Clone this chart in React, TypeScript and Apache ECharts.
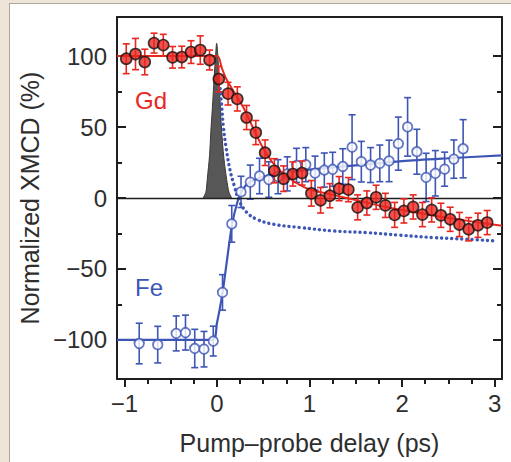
import React, { useEffect, useRef } from "react";
import * as echarts from "echarts";

// Gd (filled red circles)
const gdX = [-0.98, -0.88, -0.78, -0.68, -0.58, -0.48, -0.38, -0.28, -0.18, -0.08, 0.02, 0.12, 0.22, 0.32, 0.42, 0.52, 0.62, 0.72, 0.82, 0.92, 1.02, 1.12, 1.22, 1.32, 1.42, 1.52, 1.62, 1.72, 1.82, 1.92, 2.02, 2.12, 2.22, 2.32, 2.42, 2.52, 2.62, 2.72, 2.82, 2.92];
const gdY = [98.1, 101.4, 95.8, 109.1, 107.7, 99.1, 99.3, 102.8, 104.2, 97.2, 83.8, 73.5, 69.8, 56.7, 46.1, 31.9, 19.2, 13.6, 16.9, 17.6, 3.3, -1.6, 1.6, 6.6, 5.9, -6.6, -3.5, 0.5, -5.2, -11.9, -9.1, -6.3, -11.7, -8.4, -12.2, -15.0, -18.7, -22.0, -19.2, -17.3];
const gdErr = [10.5, 11, 9, 7, 7.6, 7.6, 7.6, 8, 10, 7, 9, 8, 8.5, 8.5, 8.5, 9, 8.5, 9, 8.5, 8.5, 9, 9, 8.5, 8.5, 8.5, 8.8, 8.5, 8.5, 8.5, 8.8, 8.5, 8.5, 8.5, 8.5, 8.5, 8.5, 8.5, 8.2, 8.5, 8.5];

// Fe (open blue circles)
const feX = [-0.84, -0.64, -0.44, -0.34, -0.24, -0.14, -0.04, 0.06, 0.16, 0.26, 0.36, 0.46, 0.56, 0.66, 0.76, 0.86, 0.96, 1.06, 1.16, 1.25, 1.36, 1.46, 1.56, 1.66, 1.76, 1.86, 1.96, 2.06, 2.16, 2.26, 2.36, 2.46, 2.56, 2.66];
const feY = [-102.5, -103.3, -95.4, -94.8, -106, -106.5, -100.8, -66.5, -18.2, 4.3, 11.2, 15.5, 13, 15, 17, 23, 23.5, 17.5, 19.7, 20.2, 22.2, 35.8, 25.6, 23.2, 24.4, 26.1, 38.3, 50.1, 32.6, 14.5, 17.4, 20.3, 27.4, 34.7];
const feErr = [14.3, 12.9, 12.3, 12.3, 13.5, 12.5, 10.5, 12.5, 12.9, 11, 12, 12.5, 12.5, 12, 12, 12, 12, 12, 12, 12, 12.5, 22.8, 14.3, 12.3, 12.9, 14.6, 18.7, 20.6, 15.8, 17, 16, 12, 13.5, 20.5];

// Fit curves
const gdFitX = [-1.08, 0, 0.05, 0.1, 0.2, 0.3, 0.4, 0.5, 0.6, 0.7, 0.8, 0.9, 1.0, 1.2, 1.4, 1.6, 1.8, 2.0, 2.4, 2.8, 3.08];
const gdFitY = [100, 100, 92, 84, 73, 62, 48, 35, 25, 18, 13, 9, 6, 3, 0, -3, -6, -8.5, -13, -17, -19.5];
const feFitX = [-1.08, -0.05, 0.0, 0.06, 0.1, 0.16, 0.22, 0.28, 0.35, 0.5, 0.75, 1.0, 1.5, 2.0, 2.5, 3.08];
const feFitY = [-100, -100, -88, -67, -48, -20, -3, 6, 11, 15, 18, 20, 23, 26, 28, 30];
const dotX = [0.035, 0.05, 0.07, 0.1, 0.14, 0.19, 0.24, 0.32, 0.43, 0.61, 0.9, 1.26, 1.62, 1.98, 2.34, 2.69, 3.0];
const dotY = [77, 66, 50, 35, 20, 8, -2, -10, -15, -18.5, -20.8, -23.2, -24.4, -26.2, -27.9, -29, -30.2];

// Pump pulse
const pulseX = [-0.15, -0.12, -0.105, -0.08, -0.065, -0.045, -0.032, -0.015, -0.003, 0.01, 0.022, 0.035, 0.05, 0.075, 0.105, 0.13, 0.16];
const pulseY = [0, 4, 13, 30, 48, 68, 83, 100, 109, 100, 83, 66, 48, 28, 13, 4, 0];

const xMajor = [-1, 0, 1, 2, 3];
const xMinor = [-0.75, -0.5, -0.25, 0.25, 0.5, 0.75, 1.25, 1.5, 1.75, 2.25, 2.5, 2.75];
const yMajor = [-100, -50, 0, 50, 100];
const yMinor = [-75, -25, 25, 75];

const RED = "#e8271f";
const BLUE = "#3d55b5";
const TEXT = "#2e2e2e";
const AXIS = "#1e1e1e";
const FONT = "'Liberation Sans', Arial, Helvetica, sans-serif";

const fmt = (v: number) => (v < 0 ? "\u2212" + Math.abs(v) : String(v));
const zip = (xs: number[], ys: number[]) => xs.map((x, i) => [x, ys[i]]);

function errorBars(xs: number[], ys: number[], es: number[], color: string, z: number) {
  return {
    type: "custom",
    z,
    data: xs.map((x, i) => [x, ys[i] - es[i], ys[i] + es[i]]),
    renderItem: (_p: any, api: any) => {
      const x = api.value(0);
      const top = api.coord([x, api.value(2)]);
      const bot = api.coord([x, api.value(1)]);
      const w = 3.5;
      const st = { stroke: color, lineWidth: 1.6 };
      return {
        type: "group",
        children: [
          { type: "line", shape: { x1: top[0], y1: top[1], x2: bot[0], y2: bot[1] }, style: st },
          { type: "line", shape: { x1: top[0] - w, y1: top[1], x2: top[0] + w, y2: top[1] }, style: st },
          { type: "line", shape: { x1: bot[0] - w, y1: bot[1], x2: bot[0] + w, y2: bot[1] }, style: st },
        ],
      };
    },
  };
}

export default function App() {
  const ref = useRef<HTMLDivElement>(null);
  useEffect(() => {
    if (!ref.current) return;
    const chart = echarts.init(ref.current, null, { renderer: "svg" });
    const xRange = { min: -1.08, max: 3.08 };
    const yRange = { min: -127.5, max: 127.5 };
    chart.setOption({
      animation: false,
      grid: { left: 117, right: 9, top: 17, bottom: 83 },
      xAxis: [
        {
          type: "value", ...xRange, position: "bottom",
          axisLine: { show: true, onZero: false, lineStyle: { color: AXIS, width: 2 } },
          axisTick: { show: true, inside: false, length: 8, customValues: xMajor, lineStyle: { color: AXIS, width: 2 } },
          axisLabel: { customValues: xMajor, formatter: fmt, fontSize: 24, margin: 12, color: TEXT, fontFamily: FONT },
          splitLine: { show: false },
          name: "Pump\u2013probe delay (ps)", nameLocation: "middle", nameGap: 51,
          nameTextStyle: { fontSize: 25, color: TEXT, fontFamily: FONT },
        },
        {
          type: "value", ...xRange, position: "bottom",
          axisLine: { show: false, onZero: false },
          axisTick: { show: true, inside: false, length: 5, customValues: xMinor, lineStyle: { color: AXIS, width: 2 } },
          axisLabel: { show: false }, splitLine: { show: false },
        },
        {
          type: "value", ...xRange, position: "top",
          axisLine: { show: true, onZero: false, lineStyle: { color: AXIS, width: 2 } },
          axisTick: { show: false }, axisLabel: { show: false }, splitLine: { show: false },
        },
      ],
      yAxis: [
        {
          type: "value", ...yRange, position: "left",
          axisLine: { show: true, onZero: false, lineStyle: { color: AXIS, width: 2 } },
          axisTick: { show: true, inside: true, length: 9, customValues: yMajor, lineStyle: { color: AXIS, width: 2 } },
          axisLabel: { customValues: yMajor, formatter: fmt, fontSize: 24, margin: 10, color: TEXT, fontFamily: FONT },
          splitLine: { show: false },
          name: "Normalized XMCD (%)", nameLocation: "middle", nameGap: 72,
          nameTextStyle: { fontSize: 25, color: TEXT, fontFamily: FONT },
        },
        {
          type: "value", ...yRange, position: "left",
          axisLine: { show: false, onZero: false },
          axisTick: { show: true, inside: true, length: 5, customValues: yMinor, lineStyle: { color: AXIS, width: 2 } },
          axisLabel: { show: false }, splitLine: { show: false },
        },
        {
          type: "value", ...yRange, position: "right",
          axisLine: { show: true, onZero: false, lineStyle: { color: AXIS, width: 2 } },
          axisTick: { show: true, inside: true, length: 9, customValues: yMajor, lineStyle: { color: AXIS, width: 2 } },
          axisLabel: { show: false }, splitLine: { show: false },
        },
        {
          type: "value", ...yRange, position: "right",
          axisLine: { show: false, onZero: false },
          axisTick: { show: true, inside: true, length: 5, customValues: yMinor, lineStyle: { color: AXIS, width: 2 } },
          axisLabel: { show: false }, splitLine: { show: false },
        },
      ],
      graphic: [
        { type: "text", x: 135, y: 88, style: { text: "Gd", fontSize: 24, fill: RED, fontFamily: FONT } },
        { type: "text", x: 135, y: 275, style: { text: "Fe", fontSize: 24, fill: BLUE, fontFamily: FONT } },
      ],
      series: [
        {
          type: "line", z: 1, data: zip(pulseX, pulseY), smooth: 0.3, symbol: "none",
          lineStyle: { color: "#3a3a3a", width: 1 }, areaStyle: { color: "#575757", opacity: 1 },
          markLine: {
            silent: true, symbol: "none", label: { show: false },
            lineStyle: { color: AXIS, width: 1.3, type: "solid" },
            data: [{ yAxis: 0 }],
          },
        },
        {
          type: "line", z: 2, data: zip(dotX, dotY), smooth: 0.4, symbol: "none",
          lineStyle: { color: BLUE, width: 3.4, type: [0.1, 5], cap: "round" },
        },
        {
          type: "line", z: 2, data: zip(feFitX, feFitY), smooth: 0.3, symbol: "none",
          lineStyle: { color: BLUE, width: 2.2 },
        },
        errorBars(feX, feY, feErr, BLUE, 3),
        {
          type: "scatter", z: 4, data: zip(feX, feY), symbol: "circle", symbolSize: 9.5,
          itemStyle: { color: "#ffffff", borderColor: BLUE, borderWidth: 1.8 },
        },
        {
          type: "line", z: 5, data: zip(gdFitX, gdFitY), smooth: 0.3, symbol: "none",
          lineStyle: { color: RED, width: 2 },
        },
        errorBars(gdX, gdY, gdErr, RED, 5),
        {
          type: "scatter", z: 6, data: zip(gdX, gdY), symbol: "circle", symbolSize: 11,
          itemStyle: { color: RED, borderColor: "#111", borderWidth: 1.6 },
        },
      ],
    });
    return () => chart.dispose();
  }, []);

  return (
    <div style={{ position: "fixed", left: 0, top: 0, width: 511, height: 462, background: "#efe4d8", overflow: "hidden" }}>
      <div style={{ position: "absolute", left: 9, top: 3, width: 520, height: 480, background: "#ffffff", border: "1px solid #aea69d", boxSizing: "border-box" }} />
      <div ref={ref} style={{ position: "absolute", left: 0, top: 0, width: 511, height: 462 }} />
    </div>
  );
}
